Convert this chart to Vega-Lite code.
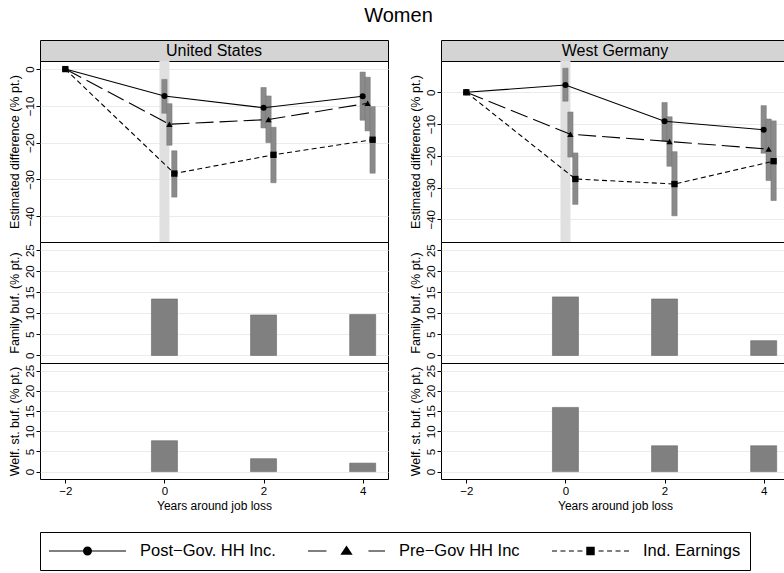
{
  "$schema": "https://vega.github.io/schema/vega-lite/v6.json",
  "padding": {"left": 7, "top": 5, "right": 0, "bottom": 0},
  "title": {"text": "Women", "fontSize": 20, "fontWeight": "normal", "anchor": "middle", "color": "black", "offset": 14},
  "datasets": {
    "est": [
      {"c": "United States", "s": "Post−Gov. HH Inc.", "yr": -2, "est": 0, "lo": null, "hi": null},
      {"c": "United States", "s": "Post−Gov. HH Inc.", "yr": 0, "est": -7.3, "lo": -12.0, "hi": -2.8},
      {"c": "United States", "s": "Post−Gov. HH Inc.", "yr": 2, "est": -10.5, "lo": -16.0, "hi": -5.0},
      {"c": "United States", "s": "Post−Gov. HH Inc.", "yr": 4, "est": -7.4, "lo": -13.9, "hi": -0.8},
      {"c": "United States", "s": "Pre−Gov HH Inc", "yr": -2, "est": 0, "lo": null, "hi": null},
      {"c": "United States", "s": "Pre−Gov HH Inc", "yr": 0.1, "est": -15.0, "lo": -20.7, "hi": -9.4},
      {"c": "United States", "s": "Pre−Gov HH Inc", "yr": 2.1, "est": -13.7, "lo": -20.0, "hi": -7.3},
      {"c": "United States", "s": "Pre−Gov HH Inc", "yr": 4.1, "est": -9.3, "lo": -16.8, "hi": -2.2},
      {"c": "United States", "s": "Ind. Earnings", "yr": -2, "est": 0, "lo": null, "hi": null},
      {"c": "United States", "s": "Ind. Earnings", "yr": 0.2, "est": -28.4, "lo": -34.8, "hi": -22.2},
      {"c": "United States", "s": "Ind. Earnings", "yr": 2.2, "est": -23.3, "lo": -30.9, "hi": -15.8},
      {"c": "United States", "s": "Ind. Earnings", "yr": 4.2, "est": -19.2, "lo": -28.3, "hi": -10.2},
      {"c": "West Germany", "s": "Post−Gov. HH Inc.", "yr": -2, "est": 0, "lo": null, "hi": null},
      {"c": "West Germany", "s": "Post−Gov. HH Inc.", "yr": 0, "est": 2.3, "lo": -2.8, "hi": 7.6},
      {"c": "West Germany", "s": "Post−Gov. HH Inc.", "yr": 2, "est": -9.1, "lo": -15.3, "hi": -3.2},
      {"c": "West Germany", "s": "Post−Gov. HH Inc.", "yr": 4, "est": -11.8, "lo": -19.2, "hi": -4.2},
      {"c": "West Germany", "s": "Pre−Gov HH Inc", "yr": -2, "est": 0, "lo": null, "hi": null},
      {"c": "West Germany", "s": "Pre−Gov HH Inc", "yr": 0.1, "est": -13.2, "lo": -20.4, "hi": -6.2},
      {"c": "West Germany", "s": "Pre−Gov HH Inc", "yr": 2.1, "est": -15.5, "lo": -23.3, "hi": -7.7},
      {"c": "West Germany", "s": "Pre−Gov HH Inc", "yr": 4.1, "est": -17.9, "lo": -27.8, "hi": -8.4},
      {"c": "West Germany", "s": "Ind. Earnings", "yr": -2, "est": 0, "lo": null, "hi": null},
      {"c": "West Germany", "s": "Ind. Earnings", "yr": 0.2, "est": -27.3, "lo": -35.3, "hi": -19.1},
      {"c": "West Germany", "s": "Ind. Earnings", "yr": 2.2, "est": -28.9, "lo": -38.9, "hi": -18.7},
      {"c": "West Germany", "s": "Ind. Earnings", "yr": 4.2, "est": -21.7, "lo": -34.1, "hi": -9.0}
    ],
    "buf": [
      {"c": "United States", "t": "Family", "yr": 0, "v": 13.4},
      {"c": "United States", "t": "Family", "yr": 2, "v": 9.6},
      {"c": "United States", "t": "Family", "yr": 4, "v": 9.7},
      {"c": "United States", "t": "Welfare", "yr": 0, "v": 7.65},
      {"c": "United States", "t": "Welfare", "yr": 2, "v": 3.2},
      {"c": "United States", "t": "Welfare", "yr": 4, "v": 2.1},
      {"c": "West Germany", "t": "Family", "yr": 0, "v": 13.9},
      {"c": "West Germany", "t": "Family", "yr": 2, "v": 13.4},
      {"c": "West Germany", "t": "Family", "yr": 4, "v": 3.5},
      {"c": "West Germany", "t": "Welfare", "yr": 0, "v": 15.9},
      {"c": "West Germany", "t": "Welfare", "yr": 2, "v": 6.4},
      {"c": "West Germany", "t": "Welfare", "yr": 4, "v": 6.4}
    ]
  },
  "hconcat": [
    {
      "spacing": 0,
      "bounds": "flush",
      "vconcat": [
        {
          "width": 348, "height": 21,
          "data": {"values": [{"label": "United States"}]},
          "mark": {"type": "text", "fontSize": 16, "color": "black"},
          "encoding": {"text": {"field": "label"}},
          "view": {"fill": "#d4d4d4", "stroke": "black"}
        },
        {
          "width": 348, "height": 181,
          "layer": [
            {
              "data": {"values": [{}]},
              "mark": {"type": "rule", "color": "#e0e0e0", "strokeWidth": 10},
              "encoding": {"x": {"datum": 0, "type": "quantitative", "scale": {"domain": [-2.41, 4.41], "nice": false, "zero": false}, "axis": null}}
            },
            {
              "data": {"name": "est"},
              "transform": [{"filter": "datum.c === 'United States' && datum.lo != null"}],
              "mark": {"type": "bar", "size": 5.3, "fill": "#8a8a8a", "stroke": "#777777", "strokeWidth": 0.5},
              "encoding": {
                "x": {"field": "yr", "type": "quantitative", "scale": {"domain": [-2.41, 4.41], "nice": false, "zero": false}, "axis": null},
                "y": {"field": "lo", "type": "quantitative", "scale": {"domain": [-47.0, 2.2], "nice": false, "zero": false}, "axis": {"values": [-40, -30, -20, -10, 0], "title": "Estimated difference (% pt.)"}},
                "y2": {"field": "hi"}
              }
            },
            {
              "data": {"name": "est"},
              "transform": [{"filter": "datum.c === 'United States' && datum.s === 'Post−Gov. HH Inc.'"}],
              "mark": {"type": "line", "color": "black", "strokeWidth": 1.1},
              "encoding": {"x": {"field": "yr", "type": "quantitative"}, "y": {"field": "est", "type": "quantitative"}}
            },
            {
              "data": {"name": "est"},
              "transform": [{"filter": "datum.c === 'United States' && datum.s === 'Pre−Gov HH Inc'"}],
              "mark": {"type": "line", "color": "black", "strokeWidth": 1.1, "strokeDash": [18, 6]},
              "encoding": {"x": {"field": "yr", "type": "quantitative"}, "y": {"field": "est", "type": "quantitative"}}
            },
            {
              "data": {"name": "est"},
              "transform": [{"filter": "datum.c === 'United States' && datum.s === 'Ind. Earnings'"}],
              "mark": {"type": "line", "color": "black", "strokeWidth": 1.1, "strokeDash": [5, 3.3]},
              "encoding": {"x": {"field": "yr", "type": "quantitative"}, "y": {"field": "est", "type": "quantitative"}}
            },
            {
              "data": {"name": "est"},
              "transform": [{"filter": "datum.c === 'United States' && datum.s === 'Post−Gov. HH Inc.'"}],
              "mark": {"type": "point", "shape": "circle", "filled": true, "color": "black", "size": 36, "opacity": 1},
              "encoding": {"x": {"field": "yr", "type": "quantitative"}, "y": {"field": "est", "type": "quantitative"}}
            },
            {
              "data": {"name": "est"},
              "transform": [{"filter": "datum.c === 'United States' && datum.s === 'Pre−Gov HH Inc'"}],
              "mark": {"type": "point", "shape": "triangle-up", "filled": true, "color": "black", "size": 40, "opacity": 1},
              "encoding": {"x": {"field": "yr", "type": "quantitative"}, "y": {"field": "est", "type": "quantitative"}}
            },
            {
              "data": {"name": "est"},
              "transform": [{"filter": "datum.c === 'United States' && datum.s === 'Ind. Earnings'"}],
              "mark": {"type": "point", "shape": "square", "filled": true, "color": "black", "size": 40, "opacity": 1},
              "encoding": {"x": {"field": "yr", "type": "quantitative"}, "y": {"field": "est", "type": "quantitative"}}
            },
            {
              "data": {"name": "est"},
              "transform": [{"filter": "datum.yr > 99"}],
              "mark": {"type": "point", "filled": true, "color": "black", "opacity": 1},
              "encoding": {
                "x": {"field": "yr", "type": "quantitative"},
                "y": {"field": "est", "type": "quantitative"},
                "shape": {
                  "field": "s", "type": "nominal",
                  "scale": {
                    "domain": ["Post−Gov. HH Inc.", "Pre−Gov HH Inc", "Ind. Earnings"],
                    "range": [
                      "M-1,-0.016L-0.11,-0.016L-0.11,0.016L-1,0.016ZM0.11,-0.016L1,-0.016L1,0.016L0.11,0.016ZM0.117,0A0.117,0.117,0,1,1,-0.117,0A0.117,0.117,0,1,1,0.117,0Z",
                      "M-1,-0.016L-0.52,-0.016L-0.52,0.016L-1,0.016ZM0.57,-0.016L1,-0.016L1,0.016L0.57,0.016ZM0,-0.14L0.16,0.1L-0.16,0.1Z",
                      "M-1,-0.016L-0.87,-0.016L-0.87,0.016L-1,0.016ZM-0.78,-0.016L-0.65,-0.016L-0.65,0.016L-0.78,0.016ZM-0.56,-0.016L-0.43,-0.016L-0.43,0.016L-0.56,0.016ZM-0.34,-0.016L-0.21,-0.016L-0.21,0.016L-0.34,0.016ZM0.21,-0.016L0.34,-0.016L0.34,0.016L0.21,0.016ZM0.43,-0.016L0.56,-0.016L0.56,0.016L0.43,0.016ZM0.65,-0.016L0.78,-0.016L0.78,0.016L0.65,0.016ZM0.87,-0.016L1,-0.016L1,0.016L0.87,0.016ZM-0.11,-0.11L0.11,-0.11L0.11,0.11L-0.11,0.11Z"
                    ]
                  },
                  "legend": {
                    "orient": "bottom", "offset": 20,
                    "direction": "horizontal", "columns": 3, "title": null,
                    "labelFontSize": 16.5, "labelOffset": 14, "columnPadding": 32, "padding": 9,
                    "clipHeight": 20,
                    "strokeColor": "black", "symbolSize": 5929, "symbolStrokeWidth": 0,
                    "symbolFillColor": "black",
                    "labelColor": "black", "labelLimit": 400,
                    "encode": {"symbols": {"fill": {"value": "black"}, "strokeWidth": {"value": 0}, "opacity": {"value": 1}}}
                  }
                }
              }
            }
          ]
        },
        {
          "width": 348, "height": 121,
          "data": {"name": "buf"},
          "transform": [{"filter": "datum.c === 'United States' && datum.t === 'Family'"}],
          "mark": {"type": "bar", "size": 26, "fill": "#808080", "stroke": "#666666", "strokeWidth": 0.6},
          "encoding": {
            "x": {"field": "yr", "type": "quantitative", "scale": {"domain": [-2.41, 4.41], "nice": false, "zero": false}, "axis": null},
            "y": {"field": "v", "type": "quantitative", "scale": {"domain": [-1.8, 26.94], "nice": false, "zero": false}, "axis": {"values": [0, 5, 10, 15, 20, 25], "title": "Family buf. (% pt.)"}}
          }
        },
        {
          "width": 348, "height": 116,
          "data": {"name": "buf"},
          "transform": [{"filter": "datum.c === 'United States' && datum.t === 'Welfare'"}],
          "mark": {"type": "bar", "size": 26, "fill": "#808080", "stroke": "#666666", "strokeWidth": 0.6},
          "encoding": {
            "x": {"field": "yr", "type": "quantitative", "scale": {"domain": [-2.41, 4.41], "nice": false, "zero": false}, "axis": {"values": [-2, 0, 2, 4], "title": "Years around job loss", "grid": false, "labelFontSize": 11.5, "titleFontSize": 12, "labelPadding": 2, "titlePadding": 4, "labelAngle": 0, "labelAlign": "center", "labelBaseline": "top"}},
            "y": {"field": "v", "type": "quantitative", "scale": {"domain": [-1.83, 26.9], "nice": false, "zero": false}, "axis": {"values": [0, 5, 10, 15, 20, 25], "title": "Welf. st. buf. (% pt.)"}}
          }
        }
      ]
    },
    {
      "spacing": 0,
      "bounds": "flush",
      "vconcat": [
        {
          "width": 348, "height": 21,
          "data": {"values": [{"label": "West Germany"}]},
          "mark": {"type": "text", "fontSize": 16, "color": "black"},
          "encoding": {"text": {"field": "label"}},
          "view": {"fill": "#d4d4d4", "stroke": "black"}
        },
        {
          "width": 348, "height": 181,
          "layer": [
            {
              "data": {"values": [{}]},
              "mark": {"type": "rule", "color": "#e0e0e0", "strokeWidth": 10},
              "encoding": {"x": {"datum": 0, "type": "quantitative", "scale": {"domain": [-2.41, 4.41], "nice": false, "zero": false}, "axis": null}}
            },
            {
              "data": {"name": "est"},
              "transform": [{"filter": "datum.c === 'West Germany' && datum.lo != null"}],
              "mark": {"type": "bar", "size": 5.3, "fill": "#8a8a8a", "stroke": "#777777", "strokeWidth": 0.5},
              "encoding": {
                "x": {"field": "yr", "type": "quantitative", "scale": {"domain": [-2.41, 4.41], "nice": false, "zero": false}, "axis": null},
                "y": {"field": "lo", "type": "quantitative", "scale": {"domain": [-47.15, 9.86], "nice": false, "zero": false}, "axis": {"values": [-40, -30, -20, -10, 0], "title": "Estimated difference (% pt.)"}},
                "y2": {"field": "hi"}
              }
            },
            {
              "data": {"name": "est"},
              "transform": [{"filter": "datum.c === 'West Germany' && datum.s === 'Post−Gov. HH Inc.'"}],
              "mark": {"type": "line", "color": "black", "strokeWidth": 1.1},
              "encoding": {"x": {"field": "yr", "type": "quantitative"}, "y": {"field": "est", "type": "quantitative"}}
            },
            {
              "data": {"name": "est"},
              "transform": [{"filter": "datum.c === 'West Germany' && datum.s === 'Pre−Gov HH Inc'"}],
              "mark": {"type": "line", "color": "black", "strokeWidth": 1.1, "strokeDash": [18, 6]},
              "encoding": {"x": {"field": "yr", "type": "quantitative"}, "y": {"field": "est", "type": "quantitative"}}
            },
            {
              "data": {"name": "est"},
              "transform": [{"filter": "datum.c === 'West Germany' && datum.s === 'Ind. Earnings'"}],
              "mark": {"type": "line", "color": "black", "strokeWidth": 1.1, "strokeDash": [5, 3.3]},
              "encoding": {"x": {"field": "yr", "type": "quantitative"}, "y": {"field": "est", "type": "quantitative"}}
            },
            {
              "data": {"name": "est"},
              "transform": [{"filter": "datum.c === 'West Germany' && datum.s === 'Post−Gov. HH Inc.'"}],
              "mark": {"type": "point", "shape": "circle", "filled": true, "color": "black", "size": 36, "opacity": 1},
              "encoding": {"x": {"field": "yr", "type": "quantitative"}, "y": {"field": "est", "type": "quantitative"}}
            },
            {
              "data": {"name": "est"},
              "transform": [{"filter": "datum.c === 'West Germany' && datum.s === 'Pre−Gov HH Inc'"}],
              "mark": {"type": "point", "shape": "triangle-up", "filled": true, "color": "black", "size": 40, "opacity": 1},
              "encoding": {"x": {"field": "yr", "type": "quantitative"}, "y": {"field": "est", "type": "quantitative"}}
            },
            {
              "data": {"name": "est"},
              "transform": [{"filter": "datum.c === 'West Germany' && datum.s === 'Ind. Earnings'"}],
              "mark": {"type": "point", "shape": "square", "filled": true, "color": "black", "size": 40, "opacity": 1},
              "encoding": {"x": {"field": "yr", "type": "quantitative"}, "y": {"field": "est", "type": "quantitative"}}
            }
          ]
        },
        {
          "width": 348, "height": 121,
          "data": {"name": "buf"},
          "transform": [{"filter": "datum.c === 'West Germany' && datum.t === 'Family'"}],
          "mark": {"type": "bar", "size": 26, "fill": "#808080", "stroke": "#666666", "strokeWidth": 0.6},
          "encoding": {
            "x": {"field": "yr", "type": "quantitative", "scale": {"domain": [-2.41, 4.41], "nice": false, "zero": false}, "axis": null},
            "y": {"field": "v", "type": "quantitative", "scale": {"domain": [-1.8, 26.94], "nice": false, "zero": false}, "axis": {"values": [0, 5, 10, 15, 20, 25], "title": "Family buf. (% pt.)"}}
          }
        },
        {
          "width": 348, "height": 116,
          "data": {"name": "buf"},
          "transform": [{"filter": "datum.c === 'West Germany' && datum.t === 'Welfare'"}],
          "mark": {"type": "bar", "size": 26, "fill": "#808080", "stroke": "#666666", "strokeWidth": 0.6},
          "encoding": {
            "x": {"field": "yr", "type": "quantitative", "scale": {"domain": [-2.41, 4.41], "nice": false, "zero": false}, "axis": {"values": [-2, 0, 2, 4], "title": "Years around job loss", "grid": false, "labelFontSize": 11.5, "titleFontSize": 12, "labelPadding": 2, "titlePadding": 4, "labelAngle": 0, "labelAlign": "center", "labelBaseline": "top"}},
            "y": {"field": "v", "type": "quantitative", "scale": {"domain": [-1.83, 26.9], "nice": false, "zero": false}, "axis": {"values": [0, 5, 10, 15, 20, 25], "title": "Welf. st. buf. (% pt.)"}}
          }
        }
      ]
    }
  ],
  "spacing": 19,
  "config": {
    "font": "Liberation Sans",
    "view": {"stroke": "black", "strokeWidth": 1},
    "axis": {"gridColor": "#ebebeb", "gridWidth": 1, "domain": false, "tickColor": "black", "tickSize": 4, "labelColor": "black", "titleColor": "black", "titleFontWeight": "normal", "labelFontSize": 11.5, "titleFontSize": 12.5},
    "axisY": {"labelAngle": -90, "labelAlign": "center", "labelBaseline": "bottom", "labelPadding": 1, "titlePadding": 3}
  }
}
